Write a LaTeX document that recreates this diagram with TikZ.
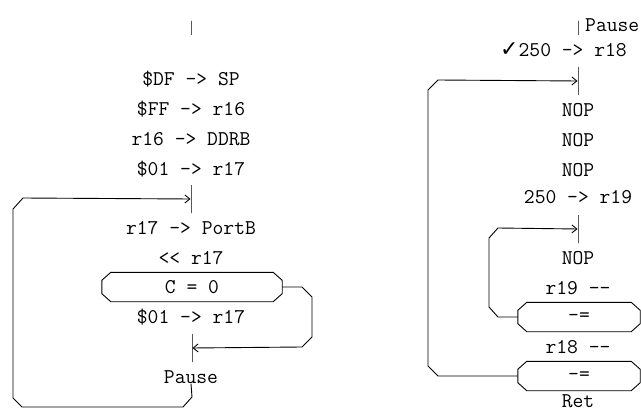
\documentclass[tikz,border=0pt]{standalone}
\usepackage{fontspec}
\newfontfamily\symfont{DejaVu Sans}
\usetikzlibrary{arrows.meta}

\begin{document}
\begin{tikzpicture}[x=1pt,y=-1pt,font={\ttfamily\addfontfeatures{FakeBold=0.8}\fontsize{21}{24}\selectfont},
  >={Straight Barb[length=5pt,width=8pt]},
  code/.style={inner sep=0pt},
  junction/.style={draw,line width=0.9pt,inner sep=0pt,minimum width=0pt,minimum height=28pt},
  stub/.style={draw,line width=0.9pt,inner sep=0pt,minimum width=0pt,minimum height=14pt},
  test/.style={inner sep=0pt,minimum height=29pt,
    append after command={\pgfextra{\draw[line width=0.9pt]
      ([xshift=9pt]\tikzlastnode.north west) -- ([xshift=-9pt]\tikzlastnode.north east)
      -- ([yshift=-8pt]\tikzlastnode.north east) -- ([yshift=8pt]\tikzlastnode.south east)
      -- ([xshift=-9pt]\tikzlastnode.south east) -- ([xshift=9pt]\tikzlastnode.south west)
      -- ([yshift=8pt]\tikzlastnode.south west) -- ([yshift=-8pt]\tikzlastnode.north west)
      -- cycle;}}},
  flow/.style={draw,line width=0.9pt}]
  \useasboundingbox (0,0) rectangle (641,412);
  % main program
  \node[stub] (start) at (191,28) {};
  \node[code] (sp) at (191,79) {\$DF -> SP};
  \node[code] (ff) at (191,109) {\$FF -> r16};
  \node[code] (ddrb) at (191,139) {r16 -> DDRB};
  \node[code] (one) at (191,169) {\$01 -> r17};
  \node[junction] (j1) at (191,199) {};
  \node[code] (portb) at (191,228) {r17 -> PortB};
  \node[code] (shl) at (191,258) {<< r17};
  \node[test,minimum width=180pt] (carry) at (192,287) {C = 0};
  \node[code] (reset) at (191,317) {\$01 -> r17};
  \node[junction] (j2) at (192,348) {};
  \node[code] (call) at (191,377) {Pause};
  \draw[flow,->] (call.south) -- (192,397) -- (183,407) -- (22,407) -- (13,398)
    -- (13,209) -- (23,198) -- (j1);
  \draw[flow,->] (carry.east) -- (302,287) -- (312,297) -- (312,337) -- (302,347) -- (j2);
  % subroutine
  \node[stub] (entry) at (578,28) {};
  \node[code,anchor=south west] (name) at (585,32) {Pause};
  \node[code,anchor=west] (outer) at (500,50) {{\symfont\fontsize{22}{24}\selectfont ✓}250 -> r18};
  \node[junction] (j3) at (578,81) {};
  \node[code] (nop1) at (578,110) {NOP};
  \node[code] (nop2) at (578,140) {NOP};
  \node[code] (nop3) at (578,170) {NOP};
  \node[code] (inner) at (578,197) {250 -> r19};
  \node[junction] (j4) at (578,229) {};
  \node[code] (nop4) at (578,258) {NOP};
  \node[code] (dec1) at (578,288) {r19 --};
  \node[test,minimum width=122pt] (loop1) at (579,317) {-=};
  \node[code] (dec2) at (578,347) {r18 --};
  \node[test,minimum width=122pt] (loop2) at (579,376) {-=};
  \node[code] (ret) at (578,401) {Ret};
  \draw[flow,->] (loop1.west) -- (498,317) -- (489,307) -- (489,238) -- (498,228) -- (j4);
  \draw[flow,->] (loop2.west) -- (438,376) -- (428,366) -- (428,90) -- (438,80) -- (j3);
\end{tikzpicture}
\end{document}
